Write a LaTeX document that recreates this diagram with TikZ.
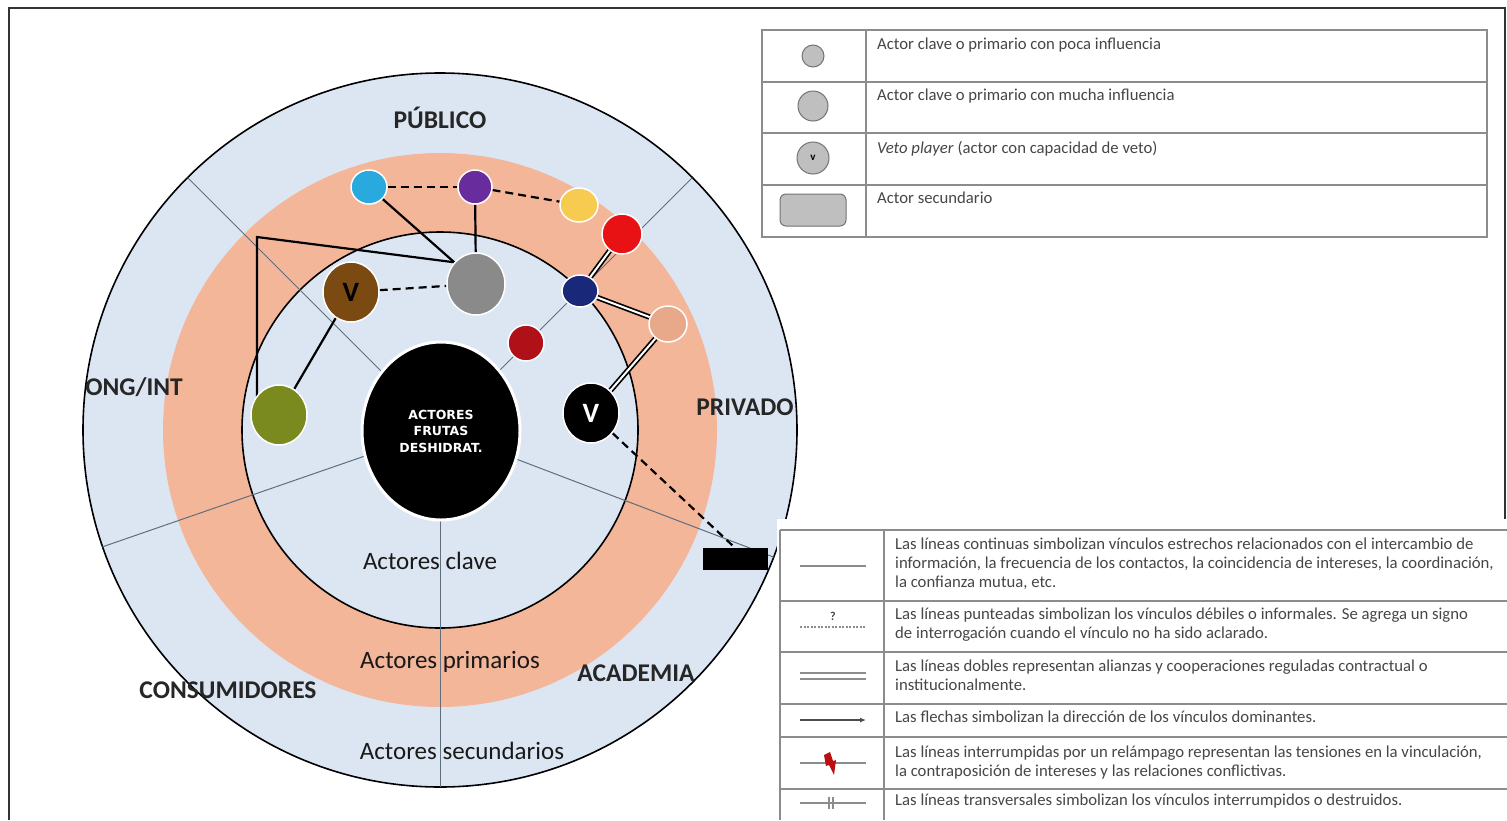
\documentclass[tikz,border=0pt]{standalone}
\usepackage{fontspec}
\setmainfont{Carlito}
\newfontfamily\corefont{DejaVu Sans}
\usetikzlibrary{arrows.meta,calc,shapes.geometric}
\pgfdeclarelayer{rings}
\pgfdeclarelayer{links}
\pgfsetlayers{rings,links,main}
\definecolor{ringblue}{RGB}{220,230,243}
\definecolor{ringpeach}{RGB}{244,182,152}
\definecolor{divline}{RGB}{95,110,125}
\definecolor{ccyan}{RGB}{40,170,222}
\definecolor{cpurple}{RGB}{104,44,156}
\definecolor{cyellow}{RGB}{246,203,80}
\definecolor{cred}{RGB}{232,18,20}
\definecolor{cnavy}{RGB}{26,40,122}
\definecolor{cpeach}{RGB}{232,168,138}
\definecolor{cdarkred}{RGB}{176,16,24}
\definecolor{cgray}{RGB}{138,138,138}
\definecolor{cbrown}{RGB}{122,74,18}
\definecolor{colive}{RGB}{122,138,30}
\definecolor{legtext}{RGB}{70,70,70}
\definecolor{legline}{RGB}{140,140,140}
\tikzset{
  actor/.style={ellipse, draw=white, line width=1.5pt, inner sep=0pt},
  sector/.style={font=\fontsize{25.5}{28}\selectfont\bfseries, text=black!85},
  zone/.style={font=\fontsize{25}{28}\selectfont, text=black!90},
  vletter/.style={font=\fontsize{28}{28}\selectfont\bfseries},
  solidlink/.style={draw=black, line width=2.2pt},
  dashlink/.style={draw=black, line width=2.2pt, dash pattern=on 8pt off 5pt},
  doublelink/.style={draw=black, double=white, double distance=2pt, line width=1.7pt},
  legbox/.style={draw=legline, line width=1.4pt},
  legtxt/.style={anchor=north west, inner sep=0pt, align=left, text=legtext, font=\fontsize{16.7}{19}\selectfont},
  legsym/.style={draw=legline, line width=1.2pt},
}
\begin{document}
\begin{tikzpicture}[x=1pt,y=-1pt]
\useasboundingbox (0,0) rectangle (1507,820);

% ---------- rings ----------
\begin{pgfonlayer}{rings}
\fill[white] (0,0) rectangle (1507,820);
\filldraw[fill=ringblue, draw=black, line width=1.6pt] (440,430) circle[radius=357pt];
\fill[ringpeach] (440,430) circle[radius=277pt];
\filldraw[fill=ringblue, draw=black, line width=1.6pt] (440,430) circle[radius=198pt];
\draw[divline, line width=1pt] (440,430) -- (187.6,177.6);
\draw[divline, line width=1pt] (440,430) -- (692.4,177.6);
\draw[divline, line width=1pt] (440,430) -- (102.6,546.8);
\draw[divline, line width=1pt] (440,430) -- (773.6,557.1);
\draw[divline, line width=1pt] (440,430) -- (440,787);
\end{pgfonlayer}

% ---------- sector and zone labels ----------
\node[sector] (lpub) at (440,118) {PÚBLICO};
\node[sector] (long) at (134,387) {ONG/INT};
\node[sector] (lpriv) at (745,407) {PRIVADO};
\node[sector] (lcons) at (228,690) {CONSUMIDORES};
\node[sector] (lacad) at (636,673) {ACADEMIA};
\node[zone] (lclave) at (430,561) {Actores clave};
\node[zone] (lprim) at (450,662) {Actores primarios};
\node[zone] (lsec) at (462,751) {Actores secundarios};

% ---------- actors ----------
\node[ellipse, fill=black, draw=white, line width=3pt, minimum width=158pt, minimum height=178pt,
      text=white, align=center, font=\corefont\fontsize{12.5}{16.5}\selectfont\bfseries] (core) at (441,431)
      {ACTORES\\FRUTAS\\DESHIDRAT.};
\node[actor, fill=ccyan, minimum width=36pt, minimum height=34pt] (cyan) at (369,187) {};
\node[actor, fill=cpurple, minimum width=34pt, minimum height=34pt] (purple) at (475,187) {};
\node[actor, fill=cyellow, minimum width=38pt, minimum height=34pt] (yellow) at (579,205) {};
\node[actor, fill=cred, minimum width=40pt, minimum height=40pt] (red) at (622,234) {};
\node[actor, fill=cnavy, minimum width=36pt, minimum height=32pt] (navy) at (580,291) {};
\node[actor, fill=cpeach, minimum width=38pt, minimum height=36pt] (peach) at (668,324) {};
\node[actor, fill=cdarkred, minimum width=36pt, minimum height=36pt] (dred) at (526,343) {};
\node[actor, fill=cgray, minimum width=58pt, minimum height=62pt] (gray) at (476,284) {};
\node[actor, vletter, fill=cbrown, minimum width=56pt, minimum height=60pt, text=black] (brown) at (351,292) {V};
\node[actor, fill=colive, minimum width=56pt, minimum height=60pt] (olive) at (279,415) {};
\node[actor, vletter, fill=black, minimum width=56pt, minimum height=60pt, text=white] (blackv) at (591,413) {V};
\node[fill=black, minimum width=65pt, minimum height=22pt, inner sep=0pt] (sec) at (735,559) {};
\coordinate (corner) at (257,237);

% ---------- links ----------
\begin{pgfonlayer}{links}
\draw[dashlink] (cyan) -- (purple);
\draw[dashlink] (purple) -- (yellow);
\draw[solidlink] (cyan) -- (gray.135);
\draw[solidlink] (purple) -- (gray);
\draw[solidlink] (gray.135) -- (corner) -- (corner |- olive.center);
\draw[dashlink] (brown) -- (gray);
\draw[solidlink] (brown) -- (olive);
\draw[doublelink] (red) -- (navy);
\draw[doublelink] (navy) -- (peach);
\draw[doublelink] (peach) -- (blackv);
\draw[dashlink] (blackv) -- (sec.north);
\end{pgfonlayer}

% ---------- frame ----------
\draw[line width=2.5pt, black!80] (9,820) -- (9,8) -- (1505,8) -- (1505,820);

% ---------- top legend ----------
\fill[white] (762,30) rectangle (1487,237);
\draw[legbox] (762,30) rectangle (1487,237);
\draw[legbox] (866,30) -- (866,237);
\draw[legbox] (762,82) -- (1487,82);
\draw[legbox] (762,133) -- (1487,133);
\draw[legbox] (762,185) -- (1487,185);
\node[circle, fill=black!25, draw=black!55, line width=1pt, minimum size=22pt, inner sep=0pt] (ks) at (813,56) {};
\node[circle, fill=black!25, draw=black!55, line width=1pt, minimum size=30pt, inner sep=0pt] (kb) at (813,106) {};
\node[circle, fill=black!25, draw=black!55, line width=1pt, minimum size=32pt, inner sep=0pt,
      font=\fontsize{11}{11}\selectfont\bfseries] (kv) at (813,158) {v};
\node[rounded corners=6pt, fill=black!25, draw=black!55, line width=1pt, minimum width=66pt, minimum height=32pt, inner sep=0pt] (kr) at (813,210) {};
\node[legtxt] (t1) at (877,38) {Actor clave o primario con poca influencia};
\node[legtxt] (t2) at (877,89) {Actor clave o primario con mucha influencia};
\node[legtxt] (t3) at (877,141) {\textit{Veto player} (actor con capacidad de veto)};
\node[legtxt] (t4) at (877,192) {Actor secundario};

% ---------- bottom legend ----------
\fill[white] (777,519) rectangle (1507,820);
\draw[legbox] (780,530) -- (1507,530);
\draw[legbox] (780,530) -- (780,820);
\draw[legbox] (884,530) -- (884,820);
\draw[legbox] (780,601) -- (1507,601);
\draw[legbox] (780,652) -- (1507,652);
\draw[legbox] (780,704) -- (1507,704);
\draw[legbox] (780,737) -- (1507,737);
\draw[legbox] (780,789) -- (1507,789);

\draw[legsym] (800,566) -- (866,566);
\node[text=legtext, font=\fontsize{12}{12}\selectfont\bfseries] (qm) at (833,616) {?};
\draw[legsym, dash pattern=on 2pt off 1.5pt] (800,627) -- (866,627);
\draw[legsym] (800,673) -- (866,673);
\draw[legsym] (800,679) -- (866,679);
\draw[legsym, -{Latex[length=6pt,width=5pt]}, draw=black!70] (800,720) -- (866,720);
\draw[legsym] (800,763) -- (866,763);
\fill[cred!80!black] (824,755) -- (830,752) -- (833,761) -- (836,760) -- (834,775) -- (829,765) -- (826,766) -- cycle;
\draw[legsym] (800,803) -- (866,803);
\draw[legsym] (829,797) -- (829,809);
\draw[legsym] (833,797) -- (833,809);

\node[legtxt] (b1) at (895,538) {Las líneas continuas simbolizan vínculos estrechos relacionados con el intercambio de\\información, la frecuencia de los contactos, la coincidencia de intereses, la coordinación,\\la confianza mutua, etc.};
\node[legtxt] (b2) at (895,608) {Las líneas punteadas simbolizan los vínculos débiles o informales. Se agrega un signo\\de interrogación cuando el vínculo no ha sido aclarado.};
\node[legtxt] (b3) at (895,660) {Las líneas dobles representan alianzas y cooperaciones reguladas contractual o\\institucionalmente.};
\node[legtxt] (b4) at (895,711) {Las flechas simbolizan la dirección de los vínculos dominantes.};
\node[legtxt] (b5) at (895,746) {Las líneas interrumpidas por un relámpago representan las tensiones en la vinculación,\\la contraposición de intereses y las relaciones conflictivas.};
\node[legtxt] (b6) at (895,794) {Las líneas transversales simbolizan los vínculos interrumpidos o destruidos.};
\end{tikzpicture}
\end{document}
